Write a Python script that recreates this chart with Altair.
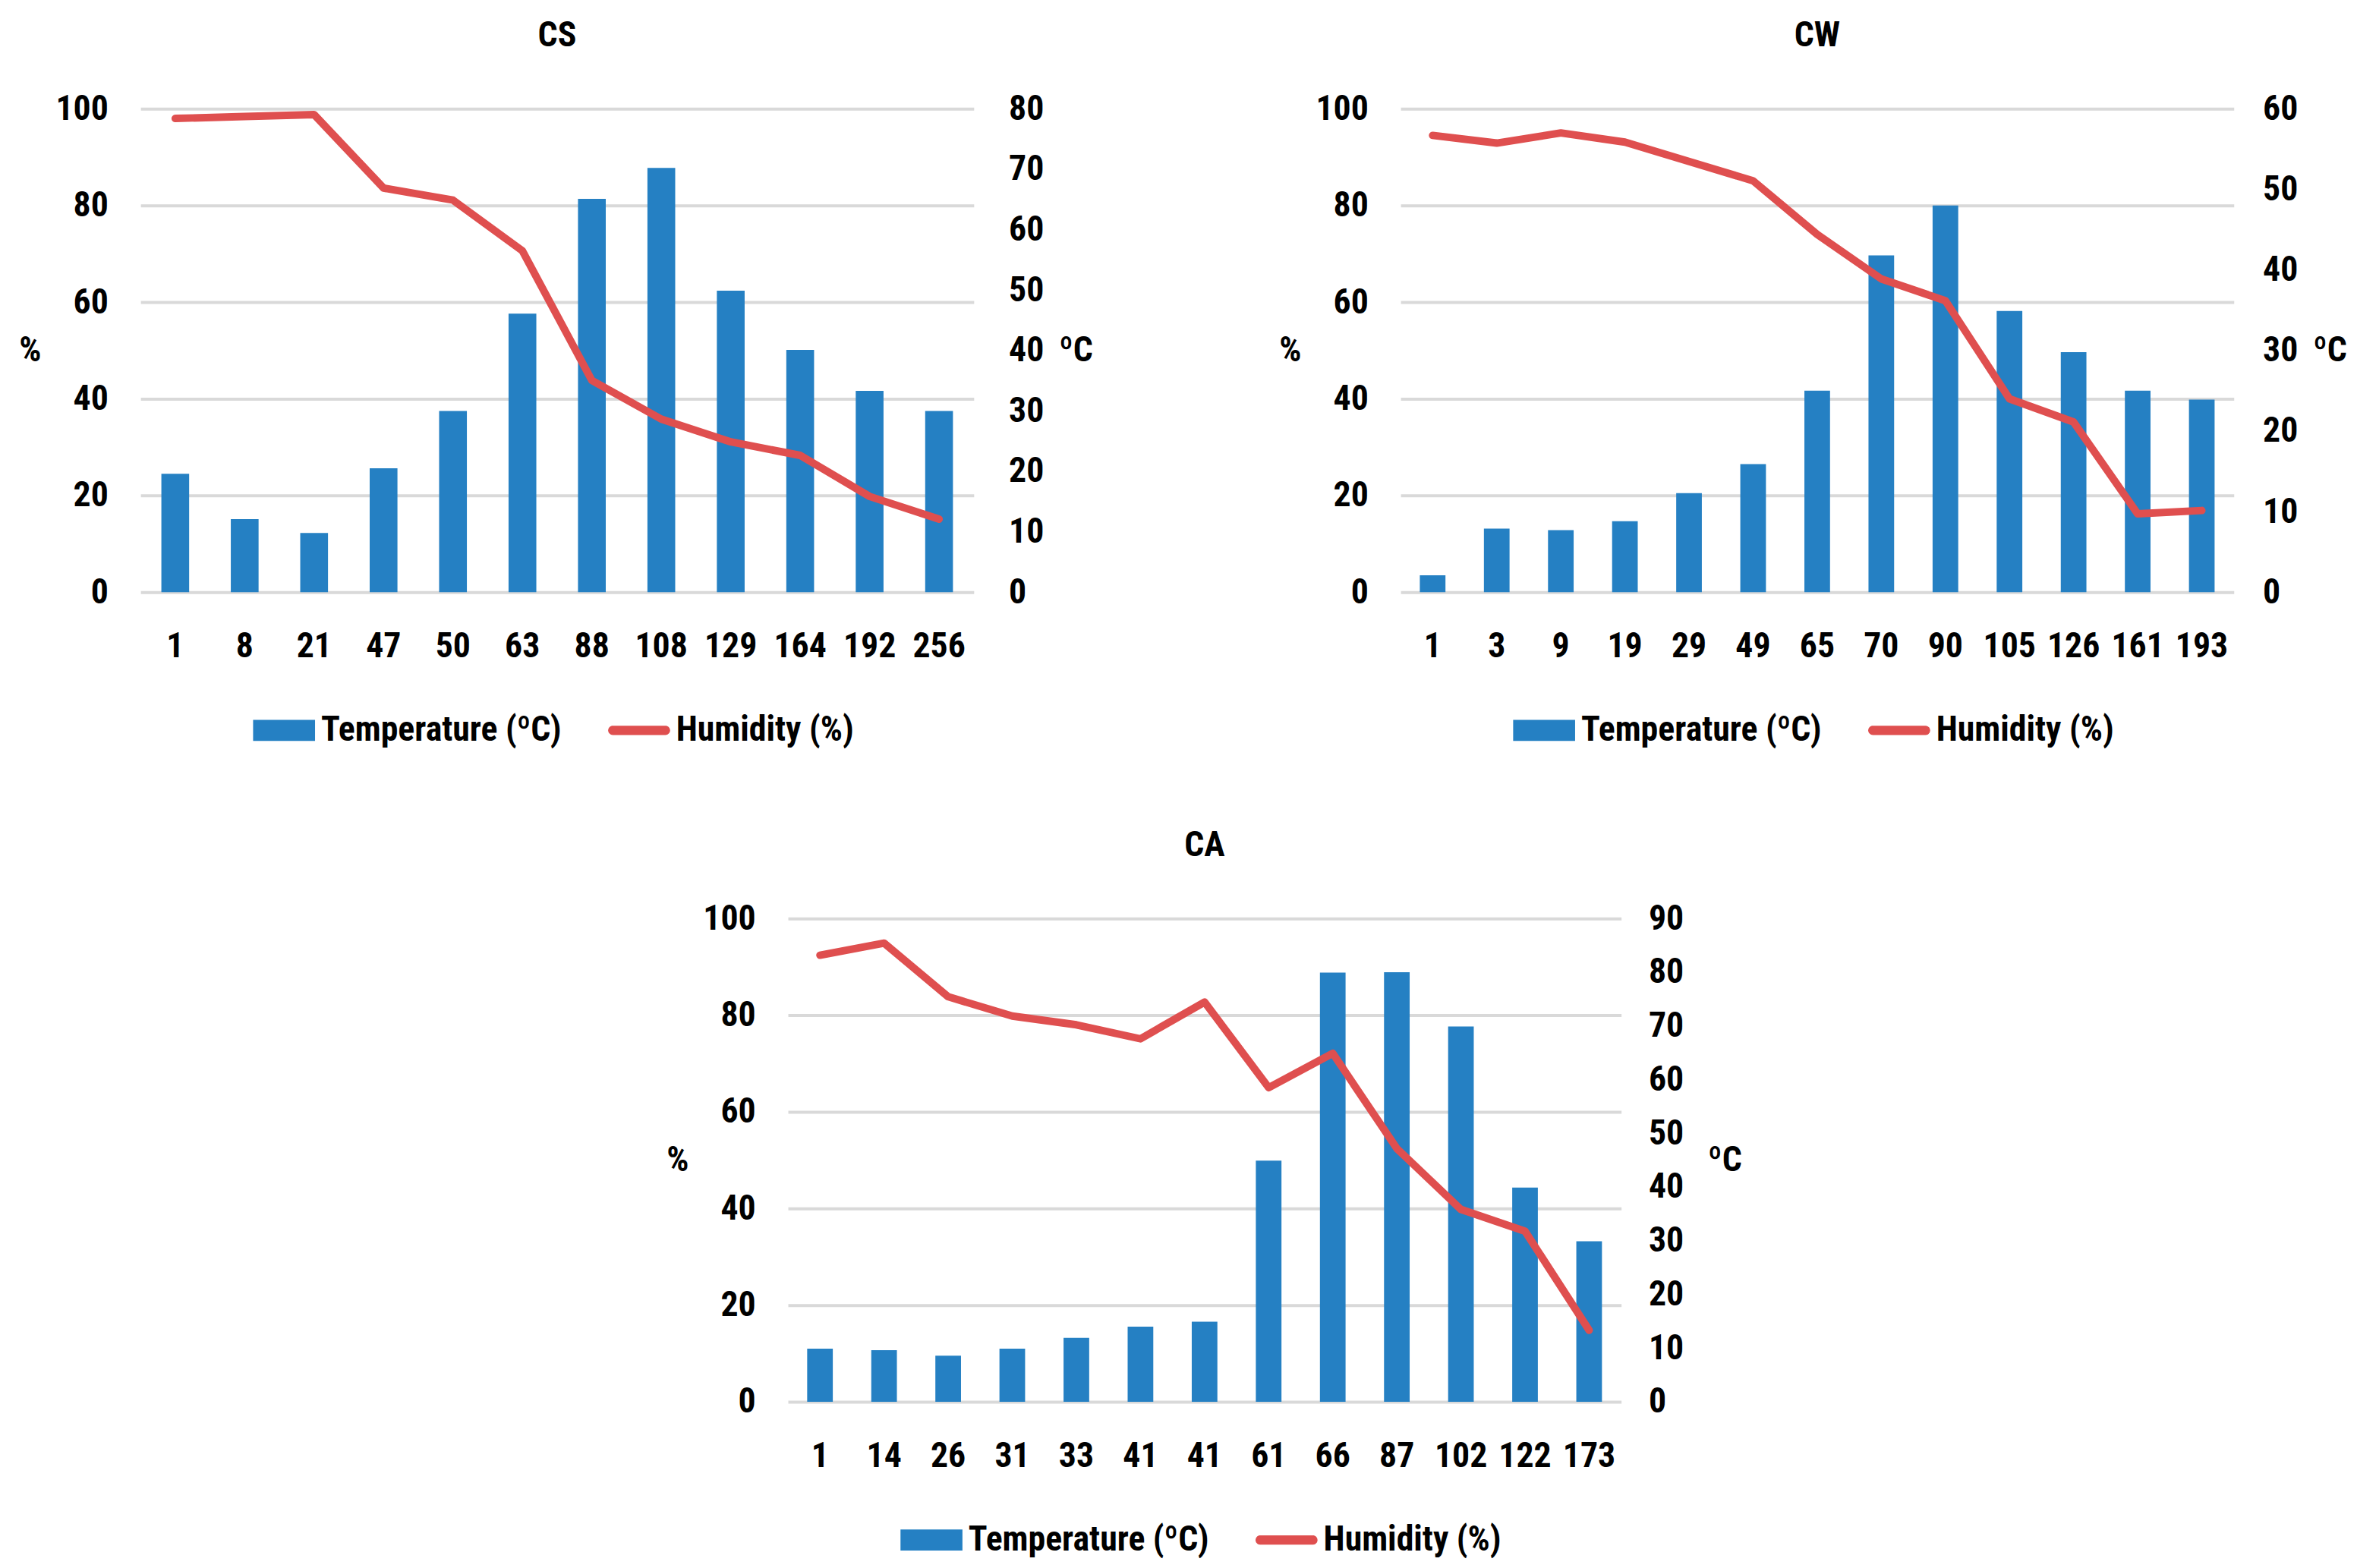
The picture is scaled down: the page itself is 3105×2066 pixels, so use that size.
import json
import altair as alt
import pandas as pd

BLUE = "#2580c3"
RED = "#df4f4f"
GRID = "#d9d9d9"
FONT = "Liberation Sans Narrow, Roboto Condensed, Liberation Sans, sans-serif"
FS = 46

SERIES = ["Temperature (ºC)", "Humidity (%)"]

cs_days = ["1", "8", "21", "47", "50", "63", "88", "108", "129", "164", "192", "256"]
cs_temp = [19.6, 12.1, 9.8, 20.5, 30.0, 46.1, 65.1, 70.2, 49.9, 40.1, 33.3, 30.0]
cs_hum = [98.0, 98.4, 98.8, 83.6, 81.1, 70.6, 43.8, 35.8, 31.1, 28.3, 19.8, 15.1]

cw_days = ["1", "3", "9", "19", "29", "49", "65", "70", "90", "105", "126", "161", "193"]
cw_temp = [2.1, 7.9, 7.7, 8.8, 12.3, 15.9, 25.0, 41.8, 48.0, 34.9, 29.8, 25.0, 23.9]
cw_hum = [94.5, 92.9, 95.0, 93.1, 89.1, 85.1, 74.0, 64.8, 60.3, 40.0, 35.2, 16.2, 16.9]

ca_days = ["1", "14", "26", "31", "33", "41", "41", "61", "66", "87", "102", "122", "173"]
ca_temp = [9.9, 9.6, 8.6, 9.9, 11.9, 14.0, 14.9, 44.9, 79.9, 80.0, 69.9, 39.9, 29.9]
ca_hum = [92.4, 94.9, 83.8, 79.8, 78.0, 75.1, 82.7, 65.0, 72.1, 52.4, 39.8, 35.3, 14.8]

# legend shapes (unit-square paths)
RECT = "M-1,-0.34H1V0.34H-1Z"
LINE = "M-0.85,-0.15H0.85A0.15,0.15 0 0 1 0.85,0.15H-0.85A0.15,0.15 0 0 1 -0.85,-0.15Z"


def make_legend():
    return alt.Legend(
        title=None,
        orient="none",
        legendX=149,
        legendY=782,
        direction="horizontal",
        symbolSize=82 * 82,
        symbolStrokeWidth=0,
        symbolOpacity=1,
        labelOffset=8,
        columnPadding=60,
        labelLimit=600,
    )


def panel(title, days, temp, hum, tmax, rpad, ctpad=20, width=1103, height=640):
    n = len(days)
    df = pd.DataFrame({"idx": list(range(n)), "temp": temp, "hum": hum})
    x = alt.X(
        "idx:O",
        scale=alt.Scale(paddingInner=0.6, paddingOuter=0.3),
        axis=alt.Axis(
            title=None,
            labelExpr=json.dumps(days) + "[datum.value]",
            labelAngle=0,
            ticks=False,
            domain=False,
            labelPadding=50,
        ),
    )
    base = alt.Chart(df)
    bars = base.mark_bar(color=BLUE).encode(
        x=x,
        y=alt.Y(
            "temp:Q",
            scale=alt.Scale(domain=[0, tmax], nice=False, zero=True),
            axis=alt.Axis(
                orient="right",
                values=list(range(0, tmax + 1, 10)),
                title="ºC",
                titleAngle=0,
                titleAlign="left",
                titleBaseline="middle",
                titlePadding=ctpad,
                grid=False,
                ticks=False,
                domain=False,
                labelPadding=rpad,
                labelAlign="left",
            ),
        ),
    )
    line = base.mark_line(
        color=RED, strokeWidth=10, strokeCap="round", strokeJoin="round"
    ).encode(
        x=x,
        y=alt.Y(
            "hum:Q",
            scale=alt.Scale(domain=[0, 100], nice=False),
            axis=alt.Axis(
                orient="left",
                values=[0, 20, 40, 60, 80, 100],
                title="%",
                titleAngle=0,
                titleAlign="right",
                titleBaseline="middle",
                titlePadding=19,
                grid=True,
                gridColor=GRID,
                gridWidth=4,
                ticks=False,
                domain=False,
                labelPadding=43,
            ),
        ),
    )
    leg_df = pd.DataFrame({"series": SERIES})
    leg = alt.Chart(leg_df).mark_point(filled=True, opacity=1, size=1).transform_filter(
        "false"
    ).encode(
        color=alt.Color(
            "series:N",
            scale=alt.Scale(domain=SERIES, range=[BLUE, RED]),
            legend=make_legend(),
        ),
        shape=alt.Shape(
            "series:N",
            scale=alt.Scale(domain=SERIES, range=[RECT, LINE]),
            legend=make_legend(),
        ),
    )
    return (
        alt.layer(bars, line, leg)
        .resolve_scale(y="independent")
        .properties(
            width=width,
            height=height,
            title=alt.TitleParams(title, anchor="middle", frame="group", offset=50),
        )
    )


cs = panel("CS", cs_days, cs_temp, cs_hum, 80, 46)
cw = panel("CW", cw_days, cw_temp, cw_hum, 60, 38)
ca = panel("CA", ca_days, ca_temp, ca_hum, 90, 36, ctpad=32)

# empty layout spacer that offsets the bottom panel
spacer = (
    alt.Chart(pd.DataFrame({"s": [0]}))
    .mark_point(opacity=0)
    .transform_filter("false")
    .properties(width=695, height=10)
)

top = alt.hconcat(cs, cw, spacing=245).resolve_scale(color="independent", shape="independent")
bottom = alt.hconcat(spacer, ca, spacing=0).resolve_scale(color="independent", shape="independent")
chart = (
    alt.vconcat(top, bottom, spacing=106)
    .resolve_scale(color="independent", shape="independent")
    .properties(padding={"left": 16, "top": 11, "right": 5, "bottom": 5}, background="white")
    .configure_view(stroke=None)
    .configure_axis(
        labelFont=FONT,
        labelFontSize=FS,
        labelFontWeight="bold",
        labelColor="#000000",
        titleFont=FONT,
        titleFontSize=FS,
        titleFontWeight="bold",
        titleColor="#000000",
    )
    .configure_title(font=FONT, fontSize=FS, fontWeight="bold", color="#000000")
    .configure_legend(
        labelFont=FONT, labelFontSize=FS, labelFontWeight="bold", labelColor="#000000"
    )
)

chart.save("out.html", embed_options={"renderer": "svg", "actions": False})
